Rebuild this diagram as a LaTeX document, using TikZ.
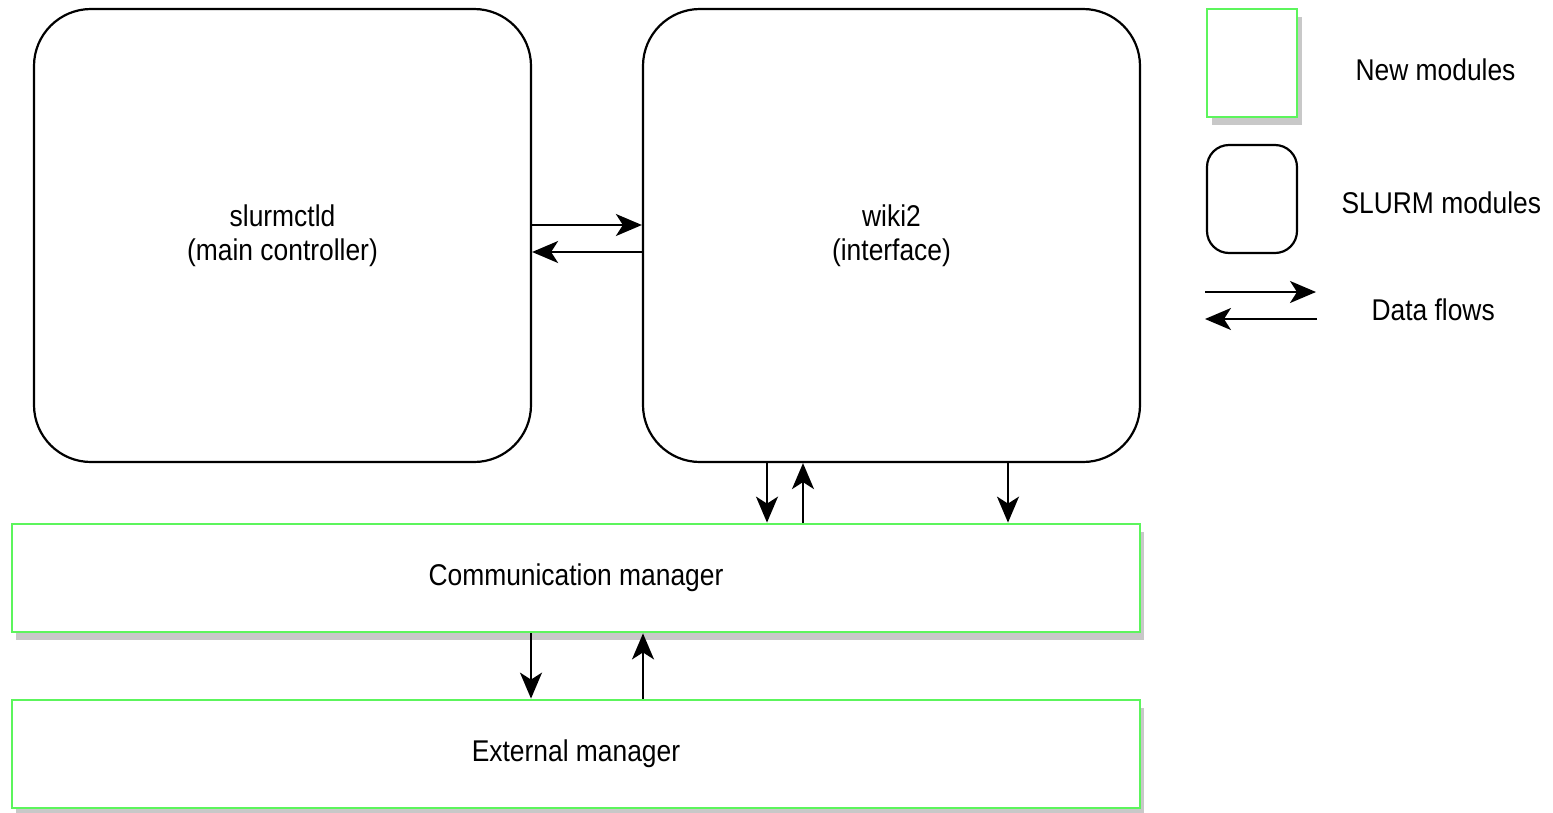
\documentclass[tikz,border=0pt]{standalone}
\usepackage{fontspec}
\setmainfont{Liberation Sans}
\usetikzlibrary{arrows.meta,calc}
\definecolor{newgreen}{HTML}{5CF55C}
\definecolor{shadowgray}{HTML}{C8C8C8}
\newcommand{\nrw}[1]{\scalebox{0.88}[1]{#1}}
\begin{document}
\begin{tikzpicture}[x=1pt,y=-1pt,
  lbl/.style={font=\fontsize{30}{34}\selectfont, align=center, text=black},
  slurmbox/.style={draw=black, line width=2.2pt, rounded corners=57pt, fill=white, inner sep=0pt},
  newbox/.style={draw=newgreen, line width=2.8pt, fill=white, inner sep=0pt},
  shadowbox/.style={fill=shadowgray, draw=none, inner sep=0pt},
  tipstyle/.tip={Stealth[length=26pt,width=22pt,inset=7pt]},
  flow/.style={draw=black, line width=2.2pt, -tipstyle}
]
\useasboundingbox (0,0) rectangle (1553,812);
% SLURM modules
\node[slurmbox, minimum width=497pt, minimum height=453pt] (s) at (282.5,235.5) {};
\node[lbl] at (s.center) {\nrw{slurmctld}\\\nrw{(main controller)}};
\node[slurmbox, minimum width=497pt, minimum height=453pt] (w) at (891.5,235.5) {};
\node[lbl] at (w.center) {\nrw{wiki2}\\\nrw{(interface)}};
% new modules with shadows
\node[shadowbox, minimum width=1128pt, minimum height=108pt] at (580,586) {};
\node[newbox, minimum width=1128pt, minimum height=108pt] (c) at (576,578) {};
\node[lbl] at (c.center) {\nrw{Communication manager}};
\node[shadowbox, minimum width=1128pt, minimum height=108pt] at (580,762) {};
\node[newbox, minimum width=1128pt, minimum height=108pt] (e) at (576,754) {};
\node[lbl] at (e.center) {\nrw{External manager}};
% arrows between slurmctld and wiki2
\draw[flow] ([yshift=10.5pt]s.east) -- ([yshift=10.5pt]w.west);
\draw[flow] ([yshift=-16.5pt]w.west) -- ([yshift=-16.5pt]s.east);
% wiki2 <-> communication manager
\coordinate (a1) at ([xshift=-124.5pt]w.south);
\coordinate (a2) at ([xshift=-88.5pt]w.south);
\coordinate (a3) at ([xshift=116.5pt]w.south);
\draw[flow] (a1) -- (a1 |- c.north);
\draw[flow] (a2 |- c.north) -- (a2);
\draw[flow] (a3) -- (a3 |- c.north);
% communication manager <-> external manager
\coordinate (b1) at ([xshift=-45pt]c.south);
\coordinate (b2) at ([xshift=67pt]c.south);
\draw[flow] (b1) -- (b1 |- e.north);
\draw[flow] (b2 |- e.north) -- (b2);
% legend
\node[shadowbox, minimum width=90pt, minimum height=108pt] at (1257,71) {};
\node[newbox, minimum width=90pt, minimum height=108pt] (lg) at (1252,63) {};
\node[lbl, anchor=west] (lgt) at (1352,70) {\nrw{New modules}};
\node[draw=black, line width=2.2pt, rounded corners=22pt, minimum width=90pt, minimum height=108pt, inner sep=0pt] (ls) at (1252,199) {};
\node[lbl, anchor=west] (lst) at (1338,203) {\nrw{SLURM modules}};
\coordinate (f1a) at (1205,292);
\coordinate (f1b) at (1316,292);
\coordinate (f2a) at (1317,319);
\coordinate (f2b) at (1205,319);
\draw[flow] (f1a) -- (f1b);
\draw[flow] (f2a) -- (f2b);
\node[lbl, anchor=west] (lft) at (1368,310) {\nrw{Data flows}};
\end{tikzpicture}
\end{document}
